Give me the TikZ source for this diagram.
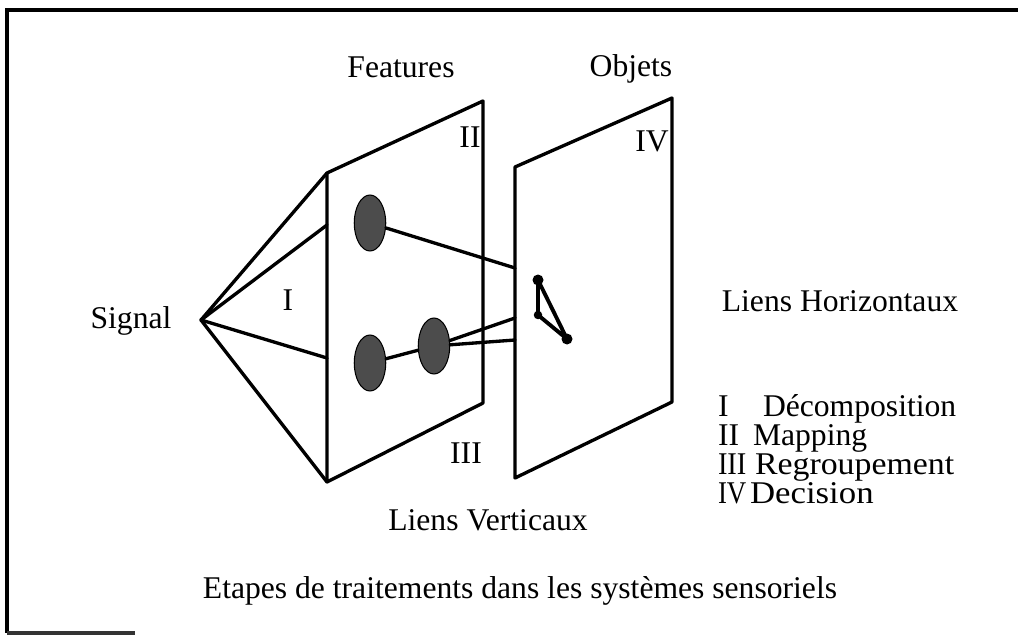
\documentclass[tikz,border=0pt]{standalone}
\usepackage{fontspec}
\setmainfont{Liberation Serif}
\usetikzlibrary{shapes.geometric}
\begin{document}
\begin{tikzpicture}[x=0.02cm,y=-0.02cm,
  txt/.style={font=\fontsize{18}{20}\selectfont, inner sep=0pt, outer sep=0pt, anchor=base},
  ltxt/.style={txt, anchor=base west},
  edge/.style={line width=1.9pt, line join=round, line cap=round},
  framel/.style={line width=2.4pt},
  blob/.style={ellipse, draw, line width=0.6pt, fill=black!70, minimum width=0.63cm, minimum height=1.12cm, inner sep=0pt},
  vdot/.style={circle, fill=black, inner sep=0pt, minimum size=0.17cm}]
\useasboundingbox (0,0) rectangle (1018,635);
% frame
\draw[framel] (1018,10) -- (7,10) -- (7,633);
\draw[line width=1.8pt, black!80] (7,633) -- (135,633);
% apex
\coordinate (S) at (201,320);
% Features plane
\coordinate (F1) at (327,173);
\coordinate (F2) at (483,101);
\coordinate (F3) at (483,403);
\coordinate (F4) at (327,482);
\coordinate (Fa) at (327,225);
\coordinate (Fb) at (327,358);
% Objets plane
\coordinate (O1) at (515,167);
\coordinate (O2) at (672,98);
\coordinate (O3) at (672,402);
\coordinate (O4) at (515,478);
\coordinate (Oa) at (515,268);
\coordinate (Ob) at (515,318);
\coordinate (Oc) at (515,340);
% pyramid lines
\draw[edge] (S) -- (F1);
\draw[edge] (S) -- (Fa);
\draw[edge] (S) -- (Fb);
\draw[edge] (S) -- (F4);
\draw[edge] (F1) -- (F2) -- (F3) -- (F4) -- cycle;
\draw[edge] (O1) -- (O2) -- (O3) -- (O4) -- cycle;
% blobs
\node[blob] (b1) at (370,223) {};
\node[blob] (b2) at (370,363) {};
\node[blob] (b3) at (434,346) {};
\draw[edge] (b1) -- (Oa);
\draw[edge] (b2) -- (b3);
\draw[edge] (b3) -- (Ob);
\draw[edge] (b3) -- (Oc);
% triangle in Objets plane
\node[vdot, minimum height=0.22cm] (t1) at (538,280) {};
\node[vdot] (t2) at (538,315) {};
\node[vdot, minimum height=0.22cm] (t3) at (567,339) {};
\draw[edge, line width=2.2pt] (t1.center) -- (t2.center) -- (t3.center) -- cycle;
% labels
\node[txt] (signal) at (131,328) {Signal};
\node[txt] (features) at (401,78) {Features};
\node[txt] (objets) at (631,77) {Objets};
\node[txt] (lI) at (288,310) {I};
\node[txt] (lII) at (470,148) {II};
\node[txt] (lIII) at (466,463) {III};
\node[txt] (lIV) at (652,152) {IV};
\node[txt] (horiz) at (840,311) {Liens Horizontaux};
\node[txt] (vert) at (488,530) {Liens Verticaux};
\node[ltxt] (n1) at (718,416) {I};
\node[ltxt] (w1) at (763,416) {Décomposition};
\node[ltxt] (n2) at (718,445) {II};
\node[ltxt] (w2) at (753,445) {Mapping};
\node[ltxt, xscale=0.9] (n3) at (718,474) {III};
\node[ltxt, xscale=1.07] (w3) at (755,474) {Regroupement};
\node[ltxt, xscale=0.85] (n4) at (718,503) {IV};
\node[ltxt, xscale=1.1] (w4) at (750,503) {Decision};
\node[txt] (title) at (520,598) {Etapes de traitements dans les systèmes sensoriels};
\end{tikzpicture}
\end{document}
